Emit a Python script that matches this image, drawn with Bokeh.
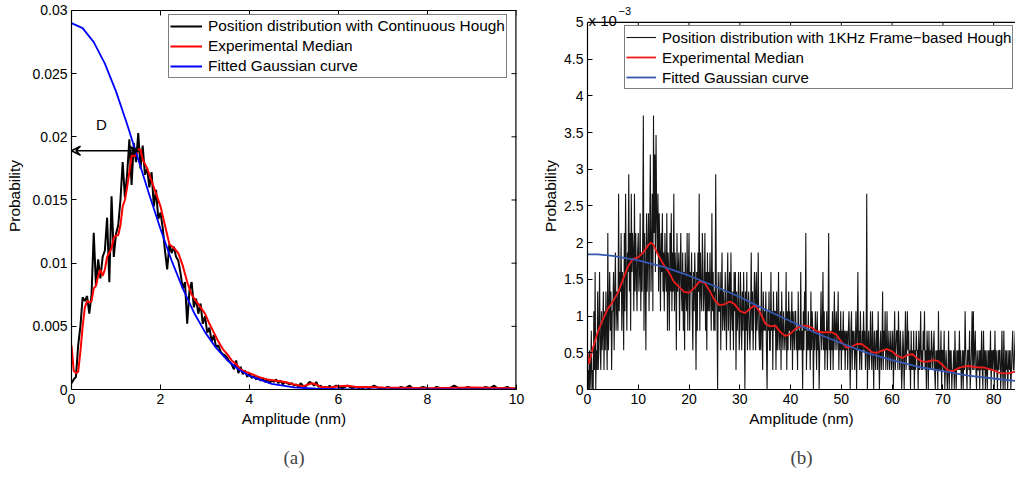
import math
from bokeh.plotting import figure
from bokeh.layouts import row
from bokeh.models import (Legend, LegendItem, FixedTicker, Arrow, VeeHead, Span,
                          Label, Title, NumeralTickFormatter, CustomJSTickFormatter, Range1d)
from bokeh.embed import file_html
from bokeh.resources import INLINE

# ---------------- data (a): values in units of 1e-3 ----------------
left_black_e3 = [0.5, 0.8, 1.0, 3.5, 5.0, 7.3, 7.0, 7.4, 6.0, 7.5,
                 12.4, 8.2, 10.3, 8.8, 10.5, 11.0, 13.6, 8.5, 15.3, 10.5,
                 12.3, 13.0, 15.0, 18.0, 15.2, 17.0, 19.8, 16.2, 19.5, 18.0,
                 20.3, 17.5, 19.3, 17.0, 17.5, 16.0, 17.2, 14.5, 15.8, 13.5,
                 14.0, 12.8, 11.0, 9.5, 11.5, 10.8, 11.3, 10.5, 10.2, 9.2,
                 8.0, 8.5, 5.2, 7.8, 8.5, 6.5, 7.2, 6.0, 6.8, 5.2,
                 5.8, 4.5, 4.9, 3.8, 4.3, 3.3, 3.5, 3.0, 2.8, 2.7,
                 2.5, 2.2, 2.0, 1.6, 2.3, 1.3, 1.8, 1.2, 1.5, 1.0,
                 1.3, 0.9, 1.1, 0.8, 1.0, 0.7, 0.9, 0.6, 0.8, 0.5,
                 0.7, 0.6, 0.8, 0.5, 0.7, 0.4, 0.6, 0.5, 0.4, 0.5,
                 0.3, 0.4, 0.2, 0.5, 0.3, 0.2, 0.4, 0.6, 0.5, 0.3,
                 0.6, 0.2, 0.3, 0.1, 0.2, 0.1, 0.3, 0.1, 0.2, 0.3,
                 0.2,
                 0.1, 0.3, 0.1, 0.2, 0.0, 0.2, 0.1, 0.3, 0.1, 0.0,
                 0.2, 0.1, 0.0, 0.2, 0.1, 0.3, 0.0, 0.1, 0.2, 0.1,
                 0.0, 0.2, 0.1, 0.0, 0.1, 0.3, 0.1, 0.0, 0.2, 0.1,
                 0.1, 0.0, 0.2, 0.1, 0.3, 0.0, 0.1, 0.2, 0.0, 0.1]
left_black_x = [round(i * 0.05, 2) for i in range(121)] + [round(6 + 0.1 * i, 1) for i in range(1, 41)]

left_red_x = [0, 0.05, 0.1, 0.15, 0.2, 0.25, 0.3, 0.35, 0.4, 0.45, 0.5, 0.55, 0.6, 0.65, 0.7,
              0.75, 0.8, 0.85, 0.9, 0.95, 1.0, 1.05, 1.1, 1.15, 1.2, 1.25, 1.3, 1.35, 1.4,
              1.45, 1.5, 1.55, 1.6, 1.7, 1.8, 1.9, 2.0, 2.1, 2.2, 2.3, 2.4, 2.5, 2.6, 2.7,
              2.8, 2.9, 3.0, 3.1, 3.2, 3.3, 3.4, 3.5, 3.6, 3.7, 3.8, 3.9, 4.0, 4.2, 4.4,
              4.6, 4.8, 5.0, 5.2, 5.4, 5.5, 5.6, 5.8, 6.0, 6.2, 6.4, 6.6, 7.0, 8.0, 9.0, 10.0]
left_red_e3 = [3.5, 1.5, 1.3, 1.4, 3.0, 5.0, 6.5, 7.0, 6.9, 7.0, 8.0, 8.2, 9.0, 9.5, 9.0,
               9.5, 10.5, 10.8, 11.2, 12.0, 12.2, 12.2, 13.0, 14.5, 15.0, 16.0, 17.2, 18.5, 18.5,
               18.5, 19.0, 19.0, 18.2, 17.5, 16.5, 15.5, 14.5, 13.0, 11.5, 11.2, 10.8, 9.8, 8.5, 7.5,
               7.0, 6.5, 6.0, 5.2, 4.5, 3.8, 3.2, 2.8, 2.3, 2.0, 1.6, 1.4, 1.3, 1.0, 0.8,
               0.7, 0.6, 0.4, 0.25, 0.5, 0.4, 0.2, 0.15, 0.25, 0.3, 0.2, 0.2, 0.15, 0.1, 0.15, 0.1]

left_blue_x = [0, 0.25, 0.5, 0.75, 1.0, 1.25, 1.5, 1.75, 2.0, 2.25, 2.5, 2.75, 3.0, 3.25,
               3.5, 3.75, 4.0, 4.5, 5.0, 5.5, 6.0, 7.0, 8.0, 9.0, 10.0]
left_blue_e3 = [29.0, 28.6, 27.5, 25.8, 23.6, 21.0, 18.2, 15.4, 12.7, 10.2, 8.0, 6.1, 4.54, 3.29,
                2.32, 1.6, 1.07, 0.45, 0.17, 0.06, 0.02, 0.0, 0.0, 0.0, 0.0]

left_y_ticks = [0, 0.005, 0.01, 0.015, 0.02, 0.025, 0.03]
left_x_ticks = [0, 2, 4, 6, 8, 10]
left_box_top = 0.03              # top of the drawn box of panel (a)
left_x_range = (0, 10)
left_y_range = (0, 0.030632)     # head-room above the box (shared frame top with panel b)
d_arrow_y = 0.0189
d_arrow_x = [0.0, 1.5]
d_label_pos = (0.67, 0.0203)

# ---------------- data (b): counts per 0.125 nm bin, 1 count = 1/3750 ----------------
right_count_unit = 1 / 3750.0
right_bin_width = 0.125
right_black_counts = [
    0, 1, 0, 2, 0, 1, 3, 0,   1, 0, 4, 1, 6, 0, 2, 1,   5, 1, 3, 6, 2, 1, 4, 2,
    3, 5, 1, 4, 2, 5, 3, 1,   8, 2, 4, 6, 3, 5, 1, 4,   4, 6, 2, 5, 7, 3, 5, 4,
    3, 10, 4, 6, 5, 8, 3, 6,  5, 2, 8, 4, 10, 6, 3, 7,  6, 11, 5, 8, 3, 10, 6, 8,
    7, 4, 10, 5, 8, 6, 4, 7,  8, 5, 6, 9, 4, 7, 5, 8,   14, 3, 8, 6, 2, 9, 5, 7,
    9, 4, 8, 12, 5, 7, 10, 4, 14, 8, 12, 6, 13, 9, 7, 10, 5, 9, 7, 4, 8, 6, 9, 5,
    7, 4, 8, 6, 5, 9, 3, 7,   6, 3, 8, 5, 9, 4, 7, 5,   10, 4, 7, 6, 2, 8, 5, 6,
    7, 3, 6, 8, 5, 4, 7, 3,   6, 2, 7, 5, 4, 8, 3, 6,   8, 3, 6, 5, 7, 4, 2, 6,
    4, 7, 5, 1, 6, 3, 7, 5,   10, 3, 7, 5, 4, 8, 6, 4,  5, 8, 3, 6, 2, 7, 4, 6,
    4, 7, 5, 3, 9, 4, 6, 3,   5, 3, 11, 5, 4, 0, 6, 4,  4, 6, 2, 5, 7, 3, 5, 4,
    3, 6, 4, 2, 5, 7, 3, 5,   6, 2, 7, 4, 3, 5, 2, 6,   4, 6, 1, 5, 3, 4, 6, 2,
    3, 6, 4, 2, 5, 3, 6, 4,   0, 5, 3, 6, 2, 4, 5, 3,   2, 4, 7, 3, 5, 2, 4, 6,
    5, 2, 6, 3, 4, 7, 3, 2,   4, 2, 6, 3, 1, 5, 3, 4,   3, 5, 2, 0, 4, 3, 5, 2,
    2, 6, 3, 4, 1, 5, 3, 4,   4, 1, 5, 2, 3, 6, 2, 3,   4, 1, 5, 3, 2, 4, 3, 2,
    3, 6, 1, 4, 2, 5, 3, 4,   2, 3, 5, 1, 4, 3, 2, 4,   4, 2, 3, 1, 5, 2, 3, 2,
    6, 2, 3, 0, 4, 2, 5, 3,   8, 1, 3, 2, 4, 2, 3, 1,   5, 2, 4, 3, 0, 3, 2, 4,
    3, 1, 4, 2, 3, 0, 2, 3,   5, 2, 3, 6, 2, 4, 1, 3,   2, 4, 1, 3, 8, 2, 3, 1,
    3, 2, 4, 1, 3, 5, 2, 3,   4, 2, 3, 5, 1, 3, 2, 4,   1, 3, 2, 4, 2, 3, 1, 3,
    2, 3, 1, 3, 4, 2, 0, 3,   4, 1, 3, 2, 3, 1, 2, 4,   0, 3, 6, 2, 3, 1, 4, 2,
    1, 3, 2, 4, 2, 3, 1, 2,   10, 0, 2, 3, 1, 2, 4, 2,  1, 4, 2, 0, 3, 2, 1, 3,
    3, 1, 4, 2, 0, 2, 3, 1,   2, 5, 1, 3, 2, 4, 1, 2,   4, 1, 2, 3, 1, 2, 3, 1,
    2, 3, 0, 2, 4, 1, 2, 3,   3, 1, 4, 2, 1, 3, 2, 0,   1, 3, 2, 0, 2, 4, 1, 2,
    4, 2, 3, 1, 2, 0, 3, 1,   2, 1, 3, 0, 2, 1, 3, 2,   2, 0, 3, 1, 2, 4, 1, 2,
    1, 3, 2, 4, 1, 2, 0, 3,   2, 0, 3, 1, 2, 1, 3, 2,   1, 2, 3, 1, 0, 2, 1, 2,
    0, 4, 1, 2, 1, 3, 0, 2,   2, 1, 3, 0, 1, 2, 1, 0,   1, 3, 0, 2, 1, 2, 0, 1,
    1, 2, 0, 3, 1, 0, 2, 1,   2, 1, 3, 1, 2, 0, 1, 2,   0, 2, 1, 4, 2, 1, 0, 2,
    2, 1, 3, 0, 1, 2, 4, 1,   4, 1, 2, 3, 1, 0, 2, 1,   1, 2, 0, 2, 1, 3, 1, 0,
    3, 1, 2, 0, 2, 1, 0, 2,   1, 2, 1, 3, 0, 2, 1, 2,   2, 0, 3, 1, 2, 1, 0, 2,
    1, 2, 2, 0, 1, 3, 1, 0,   3, 1, 0, 2, 1, 2, 0, 1,   2, 1, 2, 0, 1, 2, 3, 1,
    1, 2, 3, 1, 2, 0, 1, 2,
    2]
right_black_x = [i * right_bin_width for i in range(len(right_black_counts))]

right_red_x = [0, 0.3, 1, 2, 3, 4, 5, 6, 7, 8, 9, 10, 11, 12, 12.5, 13, 14, 15, 16, 17, 18, 19,
               20, 21, 22, 23, 24, 25, 26, 27, 28, 29, 30, 31, 32, 33, 34, 35, 36, 37, 38, 39,
               40, 41, 42, 43, 44, 45, 46, 47, 48, 49, 50, 51, 52, 53, 54, 55, 56, 57, 58, 59,
               60, 61, 62, 63, 64, 65, 66, 67, 68, 69, 70, 71, 72, 73, 74, 75, 76, 77, 78, 79,
               80, 81, 82, 83, 84, 85]
right_red_e3 = [0.5, 0.35, 0.55, 0.78, 0.95, 1.1, 1.2, 1.32, 1.5, 1.68, 1.78, 1.8, 1.87, 1.97, 2.0,
                1.97, 1.82, 1.7, 1.6, 1.47, 1.4, 1.33, 1.32, 1.38, 1.47, 1.46, 1.35, 1.22, 1.15,
                1.16, 1.2, 1.16, 1.07, 1.04, 1.1, 1.15, 1.05, 0.9, 0.86, 0.87, 0.78, 0.73, 0.76,
                0.83, 0.86, 0.87, 0.85, 0.8, 0.78, 0.78, 0.78, 0.75, 0.65, 0.57, 0.58, 0.62, 0.62,
                0.57, 0.51, 0.5, 0.53, 0.55, 0.52, 0.46, 0.43, 0.47, 0.48, 0.42, 0.38, 0.38, 0.4,
                0.39, 0.33, 0.26, 0.25, 0.29, 0.31, 0.32, 0.31, 0.3, 0.3, 0.28, 0.26, 0.23, 0.22,
                0.22, 0.24, 0.25]

right_blue_x = [0, 2, 5, 10, 15, 20, 25, 30, 35, 40, 45, 50, 55, 60, 65, 70, 75, 80, 85]
right_blue_e3 = [1.84, 1.84, 1.82, 1.76, 1.67, 1.55, 1.41, 1.26, 1.09, 0.93, 0.77, 0.63, 0.5,
                 0.4, 0.31, 0.25, 0.19, 0.15, 0.11]

right_y_ticks = [0, 0.0005, 0.001, 0.0015, 0.002, 0.0025, 0.003, 0.0035, 0.004, 0.0045, 0.005]
right_x_ticks = [0, 10, 20, 30, 40, 50, 60, 70, 80]
right_box_top = 0.005            # top of the drawn box of panel (b)
right_x_range = (0, 84.3)
right_y_range = (0, 0.0052717)   # head-room above the box for the "x 10^-3" note

FONT = "Liberation Sans"
LABEL_PX = "15.4px"
FRAME_H = 388                    # frame height in px (both panels)
TICK_LEN = 5                     # inward tick length in px


def style_axis(ax, ticks):
    ax.ticker = FixedTicker(ticks=ticks)
    ax.major_tick_in = TICK_LEN
    ax.major_tick_out = 0
    ax.minor_tick_line_color = None
    ax.axis_line_color = "black"
    ax.axis_line_width = 1.2
    ax.major_tick_line_color = "black"
    ax.major_label_text_font = FONT
    ax.major_label_text_color = "black"
    ax.major_label_text_font_size = "14px"
    ax.major_label_standoff = 4
    ax.axis_label_text_font = FONT
    ax.axis_label_text_font_style = "normal"
    ax.axis_label_text_font_size = LABEL_PX
    ax.axis_label_text_color = "black"


def make_legend(items, loc, glyph_w, font_px):
    lg = Legend(items=items, location=loc)
    lg.label_text_font = FONT
    lg.label_text_font_size = font_px
    lg.label_text_color = "black"
    lg.border_line_color = "black"
    lg.border_line_width = 1.2
    lg.background_fill_color = "white"
    lg.background_fill_alpha = 1
    lg.glyph_width = glyph_w
    lg.glyph_height = 20
    lg.label_height = 20
    lg.label_standoff = 6
    lg.spacing = 0
    lg.padding = 1
    lg.margin = 0
    return lg


def top_ticks(p, xt, top, yr):
    dy = TICK_LEN * (yr[1] - yr[0]) / FRAME_H
    p.segment(x0=xt, y0=[top] * len(xt), x1=xt, y1=[top - dy] * len(xt),
              line_color="black", line_width=1)


# ---------------- figure (a) ----------------
pa = figure(width=539, height=482, output_backend="svg", toolbar_location=None,
            x_range=Range1d(*left_x_range), y_range=Range1d(*left_y_range),
            min_border_left=71, min_border_right=23, min_border_top=2, min_border_bottom=92)
pa.grid.visible = False
pa.outline_line_color = None
pa.background_fill_color = "white"

rb = pa.line(left_black_x, [v * 1e-3 for v in left_black_e3], color="black", line_width=2)
rr = pa.line(left_red_x, [v * 1e-3 for v in left_red_e3], color="#ff0000", line_width=2)
rbl = pa.line(left_blue_x, [v * 1e-3 for v in left_blue_e3], color="#0000ff", line_width=1.8)

# box: top edge + right edge, with inward ticks
pa.add_layout(Span(location=left_box_top, dimension="width", line_color="black", line_width=1.2))
pa.segment(x0=[left_x_range[1]], y0=[0], x1=[left_x_range[1]], y1=[left_box_top],
           line_color="black", line_width=2.4)
top_ticks(pa, left_x_ticks, left_box_top, left_y_range)
pa.scatter([left_x_range[1]] * len(left_y_ticks), left_y_ticks, marker="dash", size=2 * TICK_LEN,
           angle=0, line_color="black", line_width=1)

style_axis(pa.xaxis[0], left_x_ticks)
style_axis(pa.yaxis[0], left_y_ticks)
pa.yaxis[0].bounds = (0, left_box_top)
pa.xaxis[0].axis_label = "Amplitude (nm)"
pa.yaxis[0].axis_label = "Probability"
pa.yaxis[0].formatter = NumeralTickFormatter(format="0.[000]")
pa.yaxis[0].axis_label_standoff = 6
pa.xaxis[0].axis_label_standoff = 3

pa.add_layout(Arrow(x_start=d_arrow_x[0], y_start=d_arrow_y, x_end=d_arrow_x[1], y_end=d_arrow_y,
                    line_color="black", line_width=1.5,
                    start=VeeHead(size=9, line_color="black", fill_color="white", line_width=1.5),
                    end=VeeHead(size=9, line_color="black", fill_color="black", line_width=1.5)))
pa.add_layout(Label(x=d_label_pos[0], y=d_label_pos[1], text="D", text_font=FONT,
                    text_font_size="15px", text_align="center", text_baseline="bottom",
                    text_color="black"))

pa.add_layout(make_legend([
    LegendItem(label="Position distribution with Continuous Hough", renderers=[rb]),
    LegendItem(label="Experimental Median", renderers=[rr]),
    LegendItem(label="Fitted Gaussian curve", renderers=[rbl]),
], (97, 311), 32, LABEL_PX))
pa.add_layout(Title(text="(a)", align="center", text_font="Liberation Serif",
                    text_font_size="19px", text_font_style="normal", standoff=30), "below")

# ---------------- figure (b) ----------------
pb = figure(width=476, height=482, output_backend="svg", toolbar_location=None,
            x_range=Range1d(*right_x_range), y_range=Range1d(*right_y_range),
            min_border_left=48, min_border_right=0, min_border_top=2, min_border_bottom=92)
pb.grid.visible = False
pb.outline_line_color = None
pb.background_fill_color = "white"

sb = pb.line(right_black_x, [c * right_count_unit for c in right_black_counts],
             color="#151515", line_width=1.1)
sr = pb.line(right_red_x, [v * 1e-3 for v in right_red_e3], color="#ee1c1c", line_width=1.8)
sbl = pb.line(right_blue_x, [v * 1e-3 for v in right_blue_e3], color="#3558b0", line_width=1.8)

pb.add_layout(Span(location=right_box_top, dimension="width", line_color="black", line_width=1.2))
top_ticks(pb, right_x_ticks, right_box_top, right_y_range)

style_axis(pb.xaxis[0], right_x_ticks)
style_axis(pb.yaxis[0], right_y_ticks)
pb.yaxis[0].bounds = (0, right_box_top)
pb.xaxis[0].axis_label = "Amplitude (nm)"
pb.yaxis[0].axis_label = "Probability"
pb.yaxis[0].formatter = CustomJSTickFormatter(code="return String(Math.round(tick*10000)/10);")
pb.yaxis[0].axis_label_standoff = 2
pb.xaxis[0].axis_label_standoff = 3

pb.add_layout(make_legend([
    LegendItem(label="Position distribution with 1KHz Frame\u2212based Hough", renderers=[sb]),
    LegendItem(label="Experimental Median", renderers=[sr]),
    LegendItem(label="Fitted Gaussian curve", renderers=[sbl]),
], (37, 300), 30, "15.1px"))
pb.add_layout(Label(x=0, y=right_box_top, x_offset=1, y_offset=2, text="x 10", text_font=FONT,
                    text_font_size="15px", text_baseline="alphabetic", text_color="black"))
pb.add_layout(Label(x=0, y=right_box_top, x_offset=31, y_offset=11, text="\u22123", text_font=FONT,
                    text_font_size="11px", text_baseline="alphabetic", text_color="black"))
pb.add_layout(Title(text="(b)", align="center", text_font="Liberation Serif",
                    text_font_size="19px", text_font_style="normal", standoff=30), "below")

layout = row(pa, pb, spacing=0)
open("out.html", "w").write(file_html(layout, INLINE))
